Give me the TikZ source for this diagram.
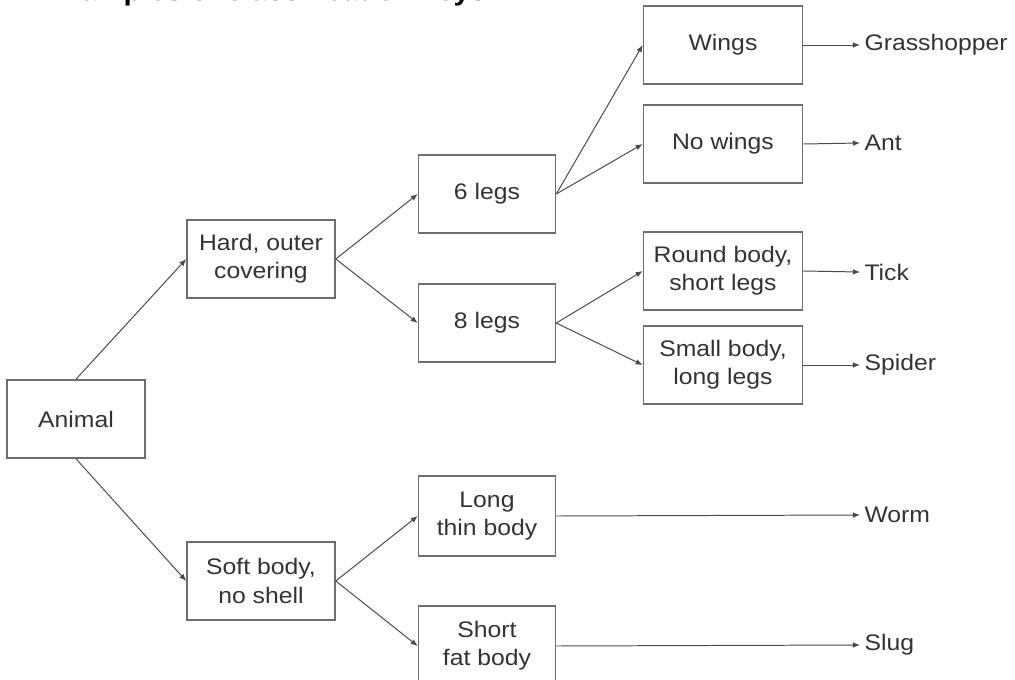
\documentclass[tikz,border=0pt]{standalone}
\usepackage{fontspec}
\setmainfont{Liberation Sans}[FakeStretch=1.1]
\usetikzlibrary{arrows.meta}
\definecolor{boxgray}{HTML}{6E6E6E}
\definecolor{linegray}{HTML}{4A4A4A}
\definecolor{textgray}{HTML}{333333}
\tikzset{
  keybox/.style={shape=rectangle, draw=boxgray, line width=1.1pt, align=center, text=textgray,
    font=\fontsize{16}{20}\selectfont, minimum height=1.95cm, inner sep=1pt},
  leaf/.style={anchor=west, text=textgray, font=\fontsize{16}{20}\selectfont, inner sep=3pt},
  branch/.style={-{Latex[length=5pt,width=4pt]}, line width=0.7pt, draw=linegray}
}
\begin{document}
\begin{tikzpicture}[x=0.025cm, y=-0.025cm]
\useasboundingbox (0,0) rectangle (1015,679);
\clip (0,0) rectangle (1015,679);
\node[anchor=base west, inner sep=0, font=\fontsize{19}{24}\selectfont\bfseries] (title) at (45,0.5) {Examples of classification keys};
\node[keybox, minimum width=3.45cm] (animal) at (76,419) {Animal};
\node[keybox, minimum width=3.7cm] (hard) at (261,259) {Hard, outer\\covering};
\node[keybox, minimum width=3.7cm] (soft) at (261,581) {Soft body,\\no shell};
\node[keybox, minimum width=3.425cm] (sixlegs) at (487,194) {6 legs};
\node[keybox, minimum width=3.425cm] (eightlegs) at (487,323) {8 legs};
\node[keybox, minimum width=3.425cm, minimum height=2cm] (longbody) at (487,516) {Long\\thin body};
\node[keybox, minimum width=3.425cm, minimum height=2cm] (shortbody) at (487,646) {Short\\fat body};
\node[keybox, minimum width=3.975cm] (wings) at (723,45) {Wings};
\node[keybox, minimum width=3.975cm] (nowings) at (723,144) {No wings};
\node[keybox, minimum width=3.975cm] (round) at (723,271) {Round body,\\short legs};
\node[keybox, minimum width=3.975cm] (small) at (723,365) {Small body,\\long legs};
\node[leaf] (grasshopper) at (860,45) {Grasshopper};
\node[leaf] (ant) at (860,143) {Ant};
\node[leaf] (tick) at (860,272) {Tick};
\node[leaf] (spider) at (860,365) {Spider};
\node[leaf] (worm) at (860,515) {Worm};
\node[leaf] (slug) at (860,645) {Slug};
\path (animal.north) edge[branch] (hard.west);
\path (animal.south) edge[branch] (soft.west);
\path (hard.east) edge[branch] (sixlegs.west);
\path (hard.east) edge[branch] (eightlegs.west);
\path (soft.east) edge[branch] (longbody.west);
\path (soft.east) edge[branch] (shortbody.west);
\path (sixlegs.east) edge[branch] (wings.west);
\path (sixlegs.east) edge[branch] (nowings.west);
\path (eightlegs.east) edge[branch] (round.west);
\path (eightlegs.east) edge[branch] (small.west);
\path (wings.east) edge[branch] (grasshopper.west);
\path (nowings.east) edge[branch] (ant.west);
\path (round.east) edge[branch] (tick.west);
\path (small.east) edge[branch] (spider.west);
\path (longbody.east) edge[branch] (worm.west);
\path (shortbody.east) edge[branch] (slug.west);
\end{tikzpicture}
\end{document}
